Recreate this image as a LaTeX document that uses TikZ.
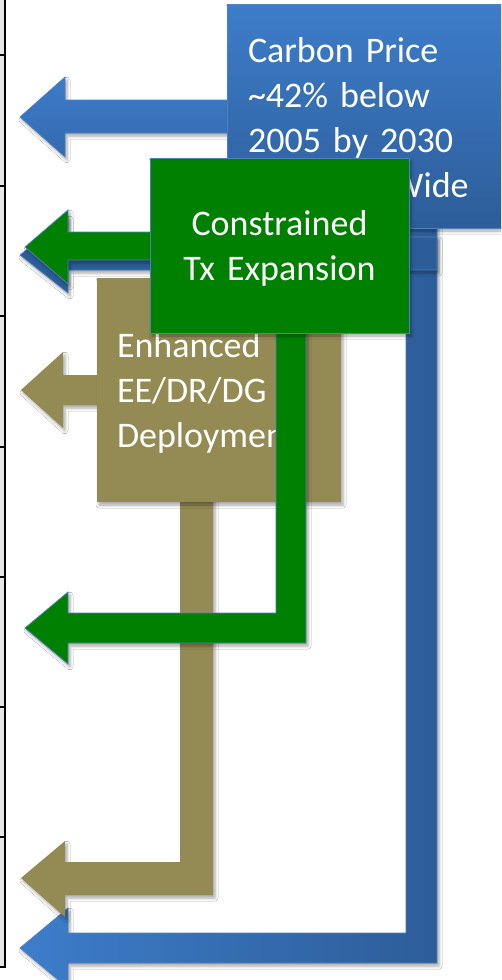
\documentclass[tikz,border=0pt]{standalone}
\usepackage{fontspec}
\setmainfont{Carlito}
\usetikzlibrary{shadows.blur}
\definecolor{bluelight}{HTML}{3D7DCA}
\definecolor{bluemid}{HTML}{3469AF}
\definecolor{bluedark}{HTML}{2D5D99}
\definecolor{blueedge}{HTML}{4F81BD}
\definecolor{olive}{HTML}{948A54}
\definecolor{tgreen}{HTML}{008000}
\definecolor{stripgray}{HTML}{E6E6E6}
\tikzset{
  shadowed/.style={blur shadow={shadow xshift=2pt, shadow yshift=-3pt, shadow blur radius=3pt, shadow opacity=35}},
  lbl/.style={text=white, font=\fontsize{36}{45}\selectfont, inner sep=0pt, outer sep=0pt},
  boxnode/.style={rectangle, inner sep=0pt, outer sep=0pt, anchor=north west},
  bluefill/.style={top color=bluelight, bottom color=bluedark, draw=blueedge, line width=0.7pt},
  greenfill/.style={fill=tgreen, draw=blueedge, line width=0.8pt},
  olivefill/.style={fill=olive},
}
\begin{document}
\begin{tikzpicture}[x=1pt, y=-1pt]
\useasboundingbox (0,0) rectangle (501,980);
\clip (0,0) rectangle (501,980);
\fill[white] (0,0) rectangle (501,980);
% left table edge
\fill[stripgray] (0,0) rectangle (5,967);
\draw[line width=1.6pt] (5,0) -- (5,967);
\foreach \yy in {55,186,316,447,577,707,837,967} \draw[line width=1.2pt] (0,\yy) -- (5.8,\yy);
% ---------- blue (carbon price) ----------
\path[shadowed, left color=bluelight, right color=bluedark, draw=blueedge, line width=0.7pt]
  (406,225) -- (437,225) -- (437,963) -- (68,963) -- (68,988) -- (20,948) -- (68,908) -- (68,933) -- (406,933) -- cycle;
\path[shadowed, top color=bluedark, bottom color=bluedark, draw=blueedge, line width=0.7pt]
  (437,237) -- (68,237) -- (68,216) -- (20,255) -- (68,293) -- (68,270) -- (437,270) -- cycle;
\path[shadowed, top color=bluelight, bottom color=bluemid, draw=blueedge, line width=0.7pt]
  (240,100) -- (65,100) -- (65,77) -- (20,117) -- (65,157) -- (65,133) -- (240,133) -- cycle;
\node[boxnode, shadowed, bluefill, minimum width=300pt, minimum height=224pt] (carbon) at (227,4) {};
\node[lbl, text width=250pt, align=left, anchor=base west] (carbontext) at (248,62)
  {Carbon Price\\\textasciitilde 42\% below\\2005 by 2030\\Economy-Wide};
% ---------- olive (EE/DR/DG) ----------
\path[shadowed, olivefill]
  (180,495) -- (213,495) -- (213,895) -- (65,895) -- (65,917) -- (21,878) -- (65,841) -- (65,862) -- (180,862) -- cycle;
\path[shadowed, olivefill]
  (110,375) -- (63,375) -- (63,352) -- (21,390) -- (63,428) -- (63,405) -- (110,405) -- cycle;
\node[boxnode, shadowed, olivefill, minimum width=244pt, minimum height=224pt] (eedr) at (97,278) {};
\node[lbl, text width=220pt, align=left, anchor=base west] (eedrtext) at (117,357)
  {Enhanced\\EE/DR/DG\\Deployment};
% ---------- green (Tx expansion) ----------
\path[shadowed, greenfill]
  (276,325) -- (306,325) -- (306,643) -- (68,643) -- (68,664) -- (25,628) -- (68,592) -- (68,613) -- (276,613) -- cycle;
\path[shadowed, greenfill]
  (160,232) -- (68,232) -- (68,210) -- (25,247) -- (68,284) -- (68,260) -- (160,260) -- cycle;
\node[boxnode, shadowed, greenfill, minimum width=259pt, minimum height=175pt] (tx) at (150,158) {};
\node[lbl, text width=259pt, align=center, anchor=base] (txtext) at (279.5,235)
  {Constrained\\Tx Expansion};
\end{tikzpicture}
\end{document}
